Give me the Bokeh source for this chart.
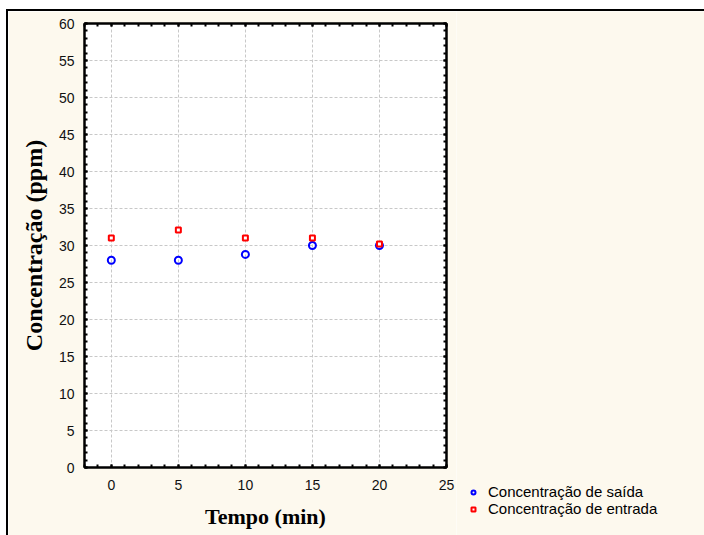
from bokeh.plotting import figure
from bokeh.models import (Range1d, SingleIntervalTicker, LinearAxis, Legend,
                          LegendItem, Spacer, CustomLabelingPolicy)
from bokeh.layouts import row, column
from bokeh.embed import file_html
from bokeh.resources import INLINE

# ---- data ----
tempo = [0, 5, 10, 15, 20]
conc_saida = [28.0, 28.0, 28.8, 30.0, 30.0]
conc_entrada = [31.0, 32.1, 31.0, 31.0, 30.2]
label_saida = "Concentração de saída"
label_entrada = "Concentração de entrada"
x_title = "Tempo (min)"
y_title = "Concentração (ppm)"

CREAM = "#FDF9EE"
BLUE = "#0000FF"
RED = "#FF0000"

H = 524  # height of the cream chart box

p = figure(width=448, height=H, output_backend="svg", toolbar_location=None,
           x_range=Range1d(-2, 25), y_range=Range1d(0, 60),
           min_border_left=76, min_border_right=10, min_border_top=12,
           min_border_bottom=68)
p.frame_align = False
p.border_fill_color = CREAM
p.background_fill_color = "white"
p.outline_line_color = "black"
p.outline_line_width = 2

xt = SingleIntervalTicker(interval=5, num_minor_ticks=5)
yt = SingleIntervalTicker(interval=5, num_minor_ticks=5)
p.xaxis.ticker = xt
p.yaxis.ticker = yt


def style_ticks(ax):
    ax.axis_line_color = "black"
    ax.axis_line_width = 2
    ax.major_tick_in = 3
    ax.major_tick_out = 0
    ax.minor_tick_in = 3
    ax.minor_tick_out = 0
    ax.major_tick_line_width = 2
    ax.minor_tick_line_width = 2
    ax.major_tick_line_color = "black"
    ax.minor_tick_line_color = "black"


for ax in (p.xaxis[0], p.yaxis[0]):
    style_ticks(ax)
    ax.major_label_text_font = "Liberation Sans"
    ax.major_label_text_font_size = "14px"
    ax.major_label_text_color = "#111111"
    ax.axis_label_text_font = "Liberation Serif"
    ax.axis_label_text_font_style = "bold"
    ax.axis_label_text_color = "black"

p.xaxis.axis_label = x_title
p.yaxis.axis_label = y_title
p.xaxis.axis_label_text_font_size = "22px"
p.yaxis.axis_label_text_font_size = "24px"
p.xaxis.major_label_standoff = 12
p.yaxis.major_label_standoff = 10
p.xaxis.axis_label_standoff = 11
p.yaxis.axis_label_standoff = 9

# tick marks (no labels) on the top and right edges of the frame
for loc in ("above", "right"):
    ax = LinearAxis(ticker=SingleIntervalTicker(interval=5, num_minor_ticks=5))
    style_ticks(ax)
    ax.major_label_policy = CustomLabelingPolicy(code="return []")
    ax.major_label_text_font_size = "1px"
    ax.major_label_standoff = 0
    p.add_layout(ax, loc)

p.xgrid.ticker = xt
p.ygrid.ticker = yt
for g in (p.xgrid[0], p.ygrid[0]):
    g.grid_line_color = "#c8c8c8"
    g.grid_line_dash = "3 2"
    g.grid_line_width = 1

p.scatter(tempo, conc_saida, marker="circle", size=7, fill_color="white",
          fill_alpha=0, line_color=BLUE, line_width=2)
p.scatter(tempo, conc_entrada, marker="square", size=5, fill_color="white",
          line_color=RED, line_width=2)

# ---- legend panel (right of the plot, not frame-aligned) ----
q = figure(width=248, height=H, output_backend="svg", toolbar_location=None,
           x_range=Range1d(100, 101), y_range=Range1d(100, 101),
           x_axis_type=None, y_axis_type=None, min_border=0)
q.frame_align = False
q.border_fill_color = CREAM
q.background_fill_color = CREAM
q.outline_line_color = None
q.grid.visible = False
k1 = q.scatter(tempo, conc_saida, marker="circle", size=7, fill_color="white",
               fill_alpha=0, line_color=BLUE, line_width=2)
k2 = q.scatter(tempo, conc_entrada, marker="square", size=5, fill_color="white",
               line_color=RED, line_width=2)
legend = Legend(items=[LegendItem(label=label_saida, renderers=[k1]),
                       LegendItem(label=label_entrada, renderers=[k2])],
                location=(12, 18), orientation="vertical")
legend.background_fill_alpha = 0
legend.border_line_color = None
legend.padding = 0
legend.margin = 0
legend.spacing = 0
legend.glyph_width = 10
legend.glyph_height = 14
legend.label_height = 14
legend.label_standoff = 10
legend.label_text_font = "Liberation Sans"
legend.label_text_font_size = "15px"
legend.label_text_line_height = 0.9
legend.label_text_color = "black"
q.add_layout(legend, "center")

# ---- outer box: white margin and black border line ----
top = column(Spacer(width=704, height=9),
             row(Spacer(width=6, height=2),
                 Spacer(width=698, height=2, styles={"background-color": "black"})))
body = row(Spacer(width=6, height=H),
           Spacer(width=2, height=H, styles={"background-color": "black"}),
           p, q)
layout = column(top, body)

open("out.html", "w").write(file_html(layout, INLINE))
